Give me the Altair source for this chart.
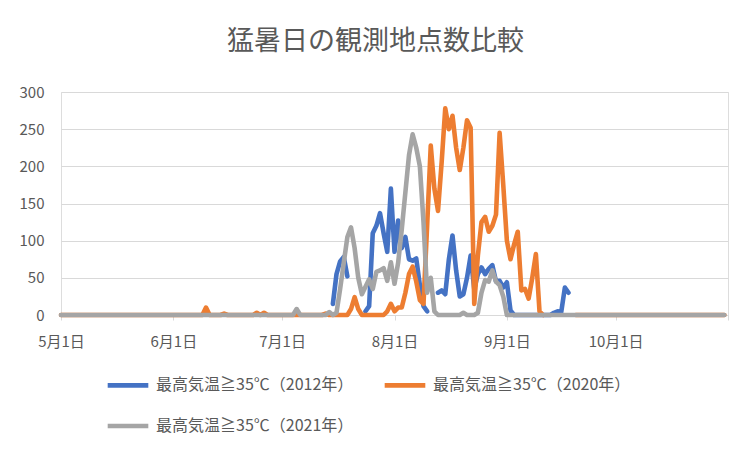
import altair as alt
import pandas as pd

# ---- data ----
series_names = ["最高気温≧35℃（2012年）", "最高気温≧35℃（2020年）", "最高気温≧35℃（2021年）"]
series_colors = ["#4472C4", "#ED7D31", "#A5A5A5"]

# x axis: days since May 1; tick positions and labels
tick_days = [0, 31, 61, 92, 123, 153, 184]
tick_labels = ["5月1日", "6月1日", "7月1日", "8月1日", "9月1日", "10月1日"]
n_days = 184          # May 1 .. Oct 31
window_start = 35     # first day (Jun 5) of the lists below; outside: gray/orange 0, blue blank

N = None
blue_2012 = [
    N, N, N, N, N, N, N, N, N, N, N, N, N, N, N, N, N, N, N, N,   # d35-54
    N, N, N, N, N, N, N, N, N, N, N, N, N, N, N, N, N, N, N, N,   # d55-74
    15, 55, 72, 78, 52, N, N, N, N, 5,                            # d75-84
    12, 110, 120, 137, 110, 85, 170, 85, 127, 90,                 # d85-94
    105, 75, 73, 76, 40, 12, 5, N, N, 30,                         # d95-104
    33, 28, 75, 107, 60, 25, 28, 50, 80, 35,                      # d105-114
    55, 64, 55, 62, 67, 45, 46, 37, 44, 6,                        # d115-124
    0, 0, 0, 0, 0, 0, 0, 0, 0, 0,                                 # d125-134
    0, 3, 5, 4, 37, 30, N,                                        # d135-141
]
orange_2020 = [
    0, 0, 0, 0, 0, 10, 0, 0, 0, 0, 2, 0, 0, 0, 0, 0, 0, 0, 0, 3,  # d35-54
    0, 3, 0, 0, 0, 0, 0, 0, 0, 0, 0, 0, 0, 0, 0, 0, 0, 0, 2, 0,   # d55-74
    0, 0, 0, 0, 0, 8, 24, 8, 0, 0,                                # d75-84
    0, 0, 0, 0, 0, 5, 15, 5, 10, 10,                              # d85-94
    30, 55, 65, 45, 20, 15, 120, 228, 170, 140,                   # d95-104
    205, 278, 250, 268, 225, 195, 225, 262, 252, 15,              # d105-114
    80, 125, 132, 112, 120, 135, 245, 175, 100, 75,               # d115-124
    95, 112, 33, 35, 22, 50, 82, 5, 0, N,                         # d125-134
    N, N, N, N, N, N, N,                                          # d135-141
]
gray_2021 = [
    0, 0, 0, 0, 0, 0, 0, 0, 0, 0, 0, 0, 0, 0, 0, 0, 0, 0, 0, 0,   # d35-54
    0, 0, 0, 0, 0, 0, 0, 0, 0, 0, 8, 0, 0, 0, 0, 0, 0, 0, 0, 4,   # d55-74
    0, 3, 35, 70, 105, 118, 90, 50, 28, 38,                       # d75-84
    48, 35, 58, 60, 63, 46, 71, 42, 70, 115,                      # d85-94
    165, 215, 243, 225, 200, 125, 30, 50, 5, 0,                   # d95-104
    0, 0, 0, 0, 0, 0, 3, 0, 0, 0,                                 # d105-114
    3, 30, 47, 45, 60, 45, 40, 25, 0, 0,                          # d115-124
    0, 0, 0, 0, 0, 0, 0, 0, 0, 0,                                 # d125-134
    0, 0, 0, 0, 0, 0, 0,                                          # d135-141
]

# ---- build long table (blank cells break the line) ----
def full_series(window_vals, outside):
    vals = [outside] * n_days
    for i, v in enumerate(window_vals):
        vals[window_start + i] = v
    return vals

rows = []
for name, win, outside in zip(series_names, [blue_2012, orange_2020, gray_2021], [None, 0, 0]):
    vals = full_series(win, outside)
    seg = 0
    prev_null = True
    for d, v in enumerate(vals):
        if v is None:
            prev_null = True
            continue
        if prev_null:
            seg += 1
            prev_null = False
        rows.append({"series": name, "day": d, "value": v, "seg": f"{name}-{seg}"})
df = pd.DataFrame(rows)

FONT = "Noto Sans CJK JP"
TXT = "#595959"
GRID = "#D9D9D9"

days_js = "[" + ",".join(str(d) for d in tick_days) + "]"
labels_js = "[" + ",".join("'" + s + "'" for s in tick_labels) + "]"
idx = f"indexof({days_js}, datum.value)"
label_expr = f"{idx} >= 0 && {idx} < {len(tick_labels)} ? {labels_js}[{idx}] : ''"

x_enc = alt.X(
    "day:Q",
    scale=alt.Scale(domain=[0, 184], nice=False, zero=False),
    axis=alt.Axis(
        values=tick_days, labelExpr=label_expr, grid=False, labelFlush=False,
        domainColor=GRID, tickColor=GRID, tickSize=5, labelPadding=14,
        labelFont=FONT, labelFontSize=15, labelColor=TXT, title=None,
    ),
)
y_enc = alt.Y(
    "value:Q",
    scale=alt.Scale(domain=[0, 300], nice=False),
    axis=alt.Axis(
        values=[0, 50, 100, 150, 200, 250, 300], grid=True, gridColor=GRID,
        domain=False, ticks=False, labelPadding=17,
        labelFont=FONT, labelFontSize=15, labelColor=TXT, title=None,
    ),
)
color_enc = alt.Color(
    "series:N",
    scale=alt.Scale(domain=series_names, range=series_colors),
    legend=alt.Legend(
        title=None, orient="none", legendX=44, legendY=270, columns=2,
        direction="horizontal",
        symbolType="stroke", symbolStrokeWidth=4.6, symbolSize=1650,
        labelFont=FONT, labelFontSize=16, labelColor=TXT, labelOffset=5,
        labelLimit=0, columnPadding=21, rowPadding=8, padding=0, gridAlign="all",
    ),
)

layers = []
for name in series_names:
    layers.append(
        alt.Chart(df[df["series"] == name])
        .mark_line(strokeWidth=4.6, strokeCap="round", strokeJoin="round")
        .encode(x=x_enc, y=y_enc, color=color_enc, detail="seg:N")
    )

chart = (
    alt.layer(*layers)
    .properties(
        width=667, height=223,
        title=alt.TitleParams(
            "猛暑日の観測地点数比較", font=FONT, fontSize=27, fontWeight="normal",
            color=TXT, anchor="middle", dx=-19, offset=29,
        ),
        autosize=alt.AutoSizeParams(type="none"),
        padding={"left": 53, "top": 84, "right": 8, "bottom": 122},
    )
    .configure_view(stroke=None)
    .configure(background="white")
)

chart.save("out.html", embed_options={"renderer": "svg", "actions": False})
